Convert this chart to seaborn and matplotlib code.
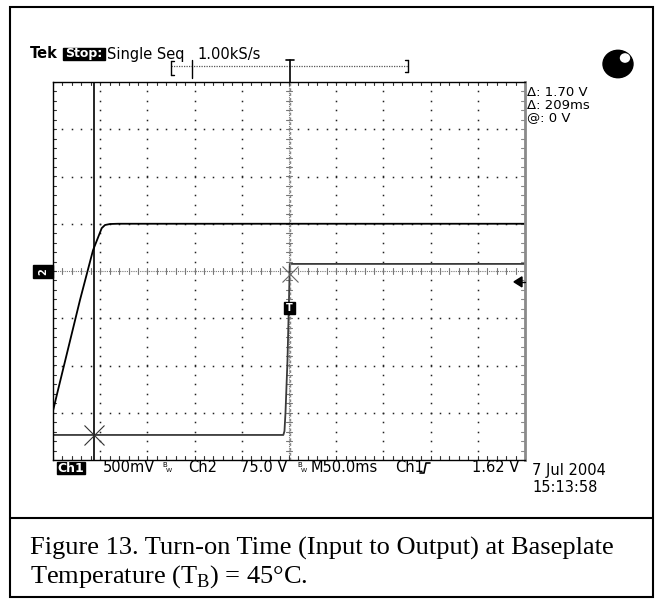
import numpy as np
import pandas as pd
import matplotlib
matplotlib.use("Agg")
import matplotlib.pyplot as plt
import seaborn as sns
from matplotlib.patches import Rectangle, Circle, Polygon
from matplotlib.lines import Line2D

# Acquisition settings
TIME_PER_DIV = 50.0        # ms / div
CH1_VOLTS_PER_DIV = 0.5    # V / div
CH2_VOLTS_PER_DIV = 75.0   # V / div
CH1_ZERO_DIV = -3.47       # ground reference position, divisions from centre
CH2_ZERO_DIV = -3.0
TRIG_LEVEL = 1.62          # V on Ch1

# Ch1: output voltage, time in ms relative to trigger
ch1_time = [-250.0, -6.0, -4.8, -3.7, -1.6, 0.0, 0.85, 250.0]
ch1_volts = [0.0, 0.0, 0.04, 0.24, 0.79, 1.43, 1.81, 1.81]

# Ch2: input voltage
ch2_time = [-250.0, -244.7, -221.4, -207.6, -198.4, -194.9, -189.6, -181.1, 250.0]
ch2_volts = [3.0, 36.0, 179.0, 258.0, 293.0, 298.0, 299.6, 300.0, 300.0]

# Cursor readout
cursor2_time = 1.0
cursor_delta_ms = 209.0
cursor1_time = cursor2_time - cursor_delta_ms + 1.0
cursor_delta_v = 1.70
cursor_at_v = 0.0

W, H = 657, 600
sns.set_theme(style="white")
plt.rcParams["font.family"] = ["DejaVu Sans"]
plt.rcParams["text.color"] = "black"

fig = plt.figure(figsize=(W / 100, H / 100), dpi=100)
fig.patch.set_facecolor("white")


def P(x, y):
    return (x / W, 1 - y / H)


# graticule area in pixels
GX0, GX1, GY0, GY1 = 53, 525, 82, 460
ax = fig.add_axes([GX0 / W, (H - GY1) / H, (GX1 - GX0) / W, (GY1 - GY0) / H])
ax.set_xlim(-5 * TIME_PER_DIV, 5 * TIME_PER_DIV)
ax.set_ylim(-4, 4)
ax.set_xticks([])
ax.set_yticks([])
for s in ["left", "top", "bottom"]:
    ax.spines[s].set_color("black")
    ax.spines[s].set_linewidth(1.0)
ax.spines["right"].set_color("#8a8a8a")
ax.spines["right"].set_linewidth(2.0)

px_t = TIME_PER_DIV / 47.2   # ms per pixel
px_v = 1 / 47.25             # div per pixel

# dotted graticule
minor_t = np.arange(-250, 250.01, 10)
minor_v = np.arange(-4, 4.01, 0.2)
for d in range(-4, 5):
    if d == 0:
        continue
    t = d * TIME_PER_DIV
    ax.plot(np.full_like(minor_v, t), minor_v, ls="none", marker="s", ms=1.1,
            mew=0, color="#222222")
for d in range(-3, 4):
    if d == 0:
        continue
    ax.plot(minor_t, np.full_like(minor_t, d), ls="none", marker="s", ms=1.1,
            mew=0, color="#222222")

# centre crosshair with minor ticks
ax.axhline(0, color="#777777", lw=0.8, ls=(0, (1, 1)))
ax.axvline(0, color="#777777", lw=0.8, ls=(0, (1, 1)))
for t in minor_t:
    ax.plot([t, t], [-3 * px_v, 3 * px_v], color="#777777", lw=0.8)
for v in minor_v:
    ax.plot([-3 * px_t, 3 * px_t], [v, v], color="#777777", lw=0.8)

# edge ticks
for t in minor_t:
    ax.plot([t, t], [-4, -4 + 4 * px_v], color="#333333", lw=0.8)
    ax.plot([t, t], [4, 4 - 3 * px_v], color="#333333", lw=0.8)
for v in minor_v:
    ax.plot([-250, -250 + 3 * px_t], [v, v], color="#333333", lw=0.8)
    ax.plot([250, 250 - 4 * px_t], [v, v], color="#8a8a8a", lw=0.8)

# waveforms
ch1 = pd.DataFrame({"t": ch1_time,
                    "div": CH1_ZERO_DIV + np.array(ch1_volts) / CH1_VOLTS_PER_DIV})
ch2 = pd.DataFrame({"t": ch2_time,
                    "div": CH2_ZERO_DIV + np.array(ch2_volts) / CH2_VOLTS_PER_DIV})
sns.lineplot(data=ch2, x="t", y="div", ax=ax, color="black", lw=1.3,
             estimator=None, sort=False)
sns.lineplot(data=ch1, x="t", y="div", ax=ax, color="#3a3a3a", lw=1.3,
             estimator=None, sort=False)
ax.set_xlabel("")
ax.set_ylabel("")
ax.set_xlim(-250, 250)
ax.set_ylim(-4, 4)

# cursors
ax.axvline(cursor1_time, color="black", lw=1.2)
ax.axvline(cursor2_time, color="#888888", lw=1.0, ls=(0, (2, 1.5)))
ax.plot([cursor1_time], [CH1_ZERO_DIV + cursor_at_v / CH1_VOLTS_PER_DIV],
        marker="x", ms=14, mew=0.8, color="#333333")
ax.plot([cursor2_time], [CH1_ZERO_DIV + (cursor_at_v + cursor_delta_v) / CH1_VOLTS_PER_DIV],
        marker="x", ms=12, mew=0.8, color="#666666")

# trigger level arrow on the right edge
trig_div = CH1_ZERO_DIV + TRIG_LEVEL / CH1_VOLTS_PER_DIV
ty = (GY0 + GY1) / 2 - trig_div * 47.25
fig.patches.append(Polygon([P(514, ty), P(522, ty - 5), P(522, ty + 5)], closed=True,
                           transform=fig.transFigure, color="black"))
fig.lines.append(Line2D([P(520, ty)[0], P(525, ty)[0]], [P(520, ty)[1]] * 2,
                        transform=fig.transFigure, color="black", lw=1))

# channel marker boxes
fig.patches.append(Rectangle(P(33, 278), 20 / W, 13 / H, transform=fig.transFigure,
                             color="black"))
fig.text(*P(43, 271.5), "2", color="white", fontsize=7, fontweight="bold",
         ha="center", va="center", rotation=90)
fig.patches.append(Rectangle(P(283.5, 314), 11 / W, 12 / H, transform=fig.transFigure,
                             color="black"))
fig.text(*P(289, 308), "T", color="white", fontsize=7, fontweight="bold",
         ha="center", va="center")

# header
FS = 10.5
fig.text(*P(30, 54), "Tek", fontsize=FS, fontweight="bold", va="center")
fig.patches.append(Rectangle(P(63, 60), 42 / W, 12 / H, transform=fig.transFigure,
                             color="black"))
fig.text(*P(84, 54), "Stop:", fontsize=9, fontweight="bold", color="white",
         va="center", ha="center")
fig.text(*P(107, 54), "Single Seq", fontsize=FS, va="center")
fig.text(*P(197, 54), "1.00kS/s", fontsize=FS, va="center")

# record bar
def fline(xs, ys, **kw):
    fig.lines.append(Line2D([x / W for x in xs], [1 - y / H for y in ys],
                            transform=fig.transFigure, **kw))

fline([171, 408], [66, 66], color="#555555", lw=0.9, ls=(0, (1, 1)))
fline([171, 171], [61, 75], color="black", lw=1)
fline([171, 174], [61, 61], color="black", lw=1)
fline([171, 174], [75, 75], color="black", lw=1)
fline([192, 192], [60, 78], color="black", lw=1)
fline([408, 408], [60, 72], color="black", lw=1)
fline([405, 408], [60, 60], color="black", lw=1)
fline([405, 408], [72, 72], color="black", lw=1)
fline([286, 294], [60, 60], color="black", lw=1.2)
fline([290, 290], [60, 82], color="black", lw=1.2)

# status ball
fig.patches.append(Circle(P(618, 64), 15 / W, transform=fig.transFigure, color="black"))
fig.patches.append(Circle(P(625, 58), 4.5 / W, transform=fig.transFigure, color="white"))

# cursor readouts
RS = 9.5
fig.text(*P(527, 93), f"Δ: {cursor_delta_v:.2f} V", fontsize=RS, va="center")
fig.text(*P(527, 105.5), f"Δ: {cursor_delta_ms:.0f}ms", fontsize=RS, va="center")
fig.text(*P(527, 118), f"@: {cursor_at_v:.0f} V", fontsize=RS, va="center")

# bottom status line
BY = 468
fig.patches.append(Rectangle(P(57, 474), 28 / W, 12 / H, transform=fig.transFigure,
                             color="black"))
fig.text(*P(71, BY), "Ch1", fontsize=9, color="white", fontweight="bold",
         va="center", ha="center")
fig.text(*P(103, BY), "500mV", fontsize=FS, va="center")
fig.text(*P(162, BY - 3), "B", fontsize=5, va="center")
fig.text(*P(166, BY + 2), "W", fontsize=4.5, va="center")
fig.text(*P(188, BY), "Ch2", fontsize=FS, va="center")
fig.text(*P(240, BY), "75.0 V", fontsize=FS, va="center")
fig.text(*P(297, BY - 3), "B", fontsize=5, va="center")
fig.text(*P(301, BY + 2), "W", fontsize=4.5, va="center")
fig.text(*P(311, BY), "M50.0ms", fontsize=FS, va="center")
fig.text(*P(395, BY), "Ch1", fontsize=FS, va="center")
fline([420, 424, 426, 430], [473, 473, 463, 463], color="black", lw=1.2)
fig.text(*P(472, BY), "1.62 V", fontsize=FS, va="center")
fig.text(*P(532, 471), "7 Jul 2004", fontsize=FS, va="center")
fig.text(*P(532, 488), "15:13:58", fontsize=FS, va="center")

# frame and caption
fig.patches.append(Rectangle(P(10, 597), 643 / W, 590 / H, transform=fig.transFigure,
                             fill=False, ec="black", lw=1.5))
fline([10, 653], [518, 518], color="black", lw=1.5)
fig.text(*P(30, 555), "Figure 13. Turn-on Time (Input to Output) at Baseplate",
         fontsize=19, family="Liberation Serif", va="baseline")
fig.text(*P(30, 583), r"Temperature (T$_\mathregular{B}$) = 45°C.",
         fontsize=19, family="Liberation Serif", va="baseline")

fig.savefig("out.png", dpi=100, facecolor="white")
